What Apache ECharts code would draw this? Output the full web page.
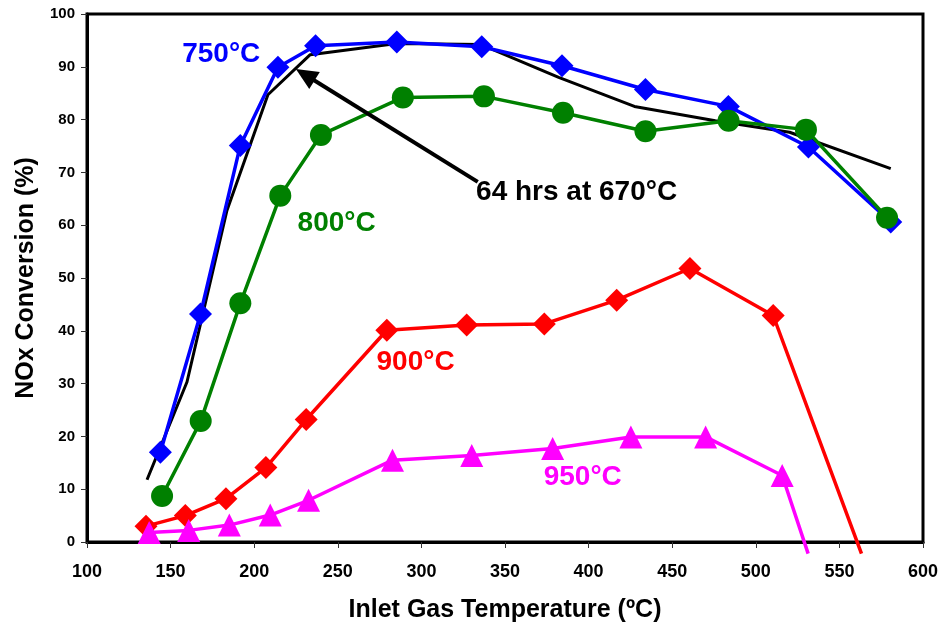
<!DOCTYPE html>
<html>
<head>
<meta charset="utf-8">
<script src="https://cdn.jsdelivr.net/npm/echarts@6/dist/echarts.min.js"></script>
<style>
  html, body { margin: 0; padding: 0; background: #fff; }
  #chart { width: 938px; height: 623px; }
</style>
</head>
<body>
<div id="chart"></div>
<script>
// NOx conversion vs. inlet gas temperature for catalysts aged at several temperatures

// 64 hrs at 670°C (reference, line only)
const temp670 = [135.9, 159.8, 183.7, 208.2, 233.5, 285.3, 335.7, 382.1, 427.4, 475.8, 520.2, 580.7];
const nox670  = [11.8, 30.3, 62.8, 84.7, 92.3, 94.4, 94.2, 88.0, 82.5, 79.8, 77.6, 70.7];

// aged at 750°C
const temp750 = [143.9, 167.9, 191.7, 214.2, 236.7, 285.3, 336.1, 384.1, 434.0, 483.6, 531.5, 580.7];
const nox750  = [17.0, 43.2, 75.1, 89.9, 94.0, 94.7, 93.8, 90.2, 85.7, 82.5, 74.8, 60.6];

// aged at 800°C
const temp800 = [144.9, 168.0, 191.7, 215.6, 239.9, 288.9, 337.4, 384.7, 434.0, 483.7, 530.0, 578.5];
const nox800  = [8.7, 22.9, 45.2, 65.6, 77.1, 84.2, 84.4, 81.3, 77.8, 79.8, 78.1, 61.4];

// aged at 900°C (last value runs off below the axis)
const temp900 = [135.3, 158.8, 183.1, 207.0, 231.1, 279.3, 327.1, 373.5, 416.8, 460.6, 510.4, 563.2];
const nox900  = [3.0, 5.0, 8.2, 14.1, 23.2, 40.1, 41.1, 41.3, 45.8, 51.8, 42.9, -2.2];

// aged at 950°C (last value runs off below the axis)
const temp950 = [137.2, 160.8, 185.1, 209.6, 232.5, 282.7, 330.1, 378.5, 425.3, 470.0, 515.8, 531.3];
const nox950  = [1.8, 2.2, 3.2, 5.1, 7.9, 15.5, 16.4, 17.7, 19.9, 19.9, 12.6, -2.2];

// axis ranges
const xMin = 100, xMax = 600, xStep = 50;
const yMin = 0, yMax = 100, yStep = 10;

// in-plot annotations (data coordinates)
const noteText = ['750°C', '800°C', '900°C', '950°C', '64 hrs at 670°C'];
const noteAt   = [[180.3, 92.3], [249.3, 60.4], [296.5, 34.0], [396.5, 12.3], [332.7, 66.2]];
const noteColor = ['#0000ff', '#008000', '#ff0000', '#ff00ff', '#000000'];
const noteAlign = ['center', 'center', 'center', 'center', 'left'];
const arrowFrom = [333.7, 68.2];
const arrowTo   = [230.5, 88.5];

const FONT = '"Liberation Sans", Arial, Helvetica, sans-serif';

function pairs(xs, ys, lastHidden) {
  return xs.map((x, i) => {
    if (lastHidden && i === xs.length - 1) return { value: [x, ys[i]], symbol: 'none' };
    return [x, ys[i]];
  });
}

const chart = echarts.init(document.getElementById('chart'), null, { renderer: 'canvas' });

const option = {
  animation: false,
  backgroundColor: '#ffffff',
  grid: {
    left: 87, right: 15, top: 14, bottom: 81,
    containLabel: false, outerBoundsMode: 'none',
    show: true, borderColor: '#000', borderWidth: 3, backgroundColor: 'transparent'
  },
  xAxis: {
    type: 'value', min: xMin, max: xMax, interval: xStep,
    name: 'Inlet Gas Temperature (ºC)', nameLocation: 'middle', nameGap: 56,
    nameTextStyle: { fontFamily: FONT, fontWeight: 'bold', fontSize: 25, color: '#000' },
    axisLine: { show: true, onZero: false, lineStyle: { color: '#000', width: 3 } },
    axisTick: { show: true, inside: false, length: 6, lineStyle: { color: '#333', width: 1 } },
    axisLabel: { margin: 21, fontFamily: FONT, fontWeight: 'bold', fontSize: 18, color: '#000' },
    splitLine: { show: false }
  },
  yAxis: {
    type: 'value', min: yMin, max: yMax, interval: yStep,
    name: 'NOx Conversion (%)', nameLocation: 'middle', nameGap: 48,
    nameTextStyle: { fontFamily: FONT, fontWeight: 'bold', fontSize: 25, color: '#000' },
    axisLine: { show: true, onZero: false, lineStyle: { color: '#000', width: 3 } },
    axisTick: { show: true, inside: false, length: 6, lineStyle: { color: '#333', width: 1 } },
    axisLabel: { margin: 12, fontFamily: FONT, fontWeight: 'bold', fontSize: 15, color: '#000' },
    splitLine: { show: false }
  },
  series: [
    {
      name: '64 hrs at 670°C', type: 'line', data: pairs(temp670, nox670),
      symbol: 'none', lineStyle: { color: '#000', width: 3 }, itemStyle: { color: '#000' },
      markLine: {
        silent: true, symbol: ['none', 'triangle'], symbolSize: [20, 22],
        lineStyle: { color: '#000', width: 4, type: 'solid' }, label: { show: false },
        data: [[{ coord: arrowFrom }, { coord: arrowTo }]]
      }
    },
    {
      name: '750°C', type: 'line', data: pairs(temp750, nox750),
      symbol: 'diamond', symbolSize: 23,
      lineStyle: { color: '#0000ff', width: 3.5 }, itemStyle: { color: '#0000ff' }
    },
    {
      name: '800°C', type: 'line', data: pairs(temp800, nox800),
      symbol: 'circle', symbolSize: 22,
      lineStyle: { color: '#008000', width: 3.5 }, itemStyle: { color: '#008000' }
    },
    {
      name: '900°C', type: 'line', data: pairs(temp900, nox900, true), clip: false,
      symbol: 'diamond', symbolSize: 23,
      lineStyle: { color: '#ff0000', width: 3.5 }, itemStyle: { color: '#ff0000' }
    },
    {
      name: '950°C', type: 'line', data: pairs(temp950, nox950, true), clip: false,
      symbol: 'triangle', symbolSize: 23,
      lineStyle: { color: '#ff00ff', width: 3.5 }, itemStyle: { color: '#ff00ff' }
    }
  ]
};

chart.setOption(option);

// place the annotation texts from their data coordinates
const notes = noteText.map((t, i) => {
  const p = chart.convertToPixel({ gridIndex: 0 }, noteAt[i]);
  return {
    type: 'text', x: p[0], y: p[1], z: 100,
    style: {
      text: t, fill: noteColor[i], font: 'bold 28px ' + FONT,
      textAlign: noteAlign[i], textVerticalAlign: 'middle'
    }
  };
});
chart.setOption({ graphic: notes });
</script>
</body>
</html>
